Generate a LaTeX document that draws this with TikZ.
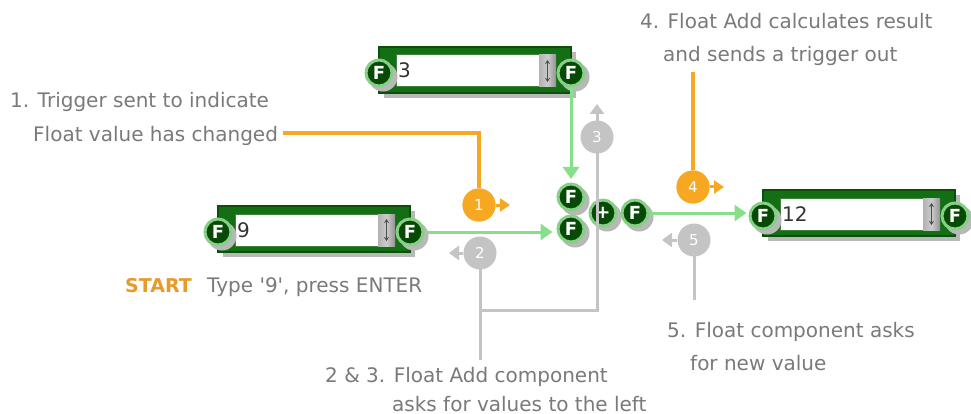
\documentclass[tikz,border=0pt]{standalone}
\usepackage{fontspec}
\setmainfont{DejaVu Sans}
\usetikzlibrary{arrows.meta}
\definecolor{txt}{HTML}{7A7A7A}
\definecolor{org}{HTML}{F7A823}
\definecolor{startc}{HTML}{E89A28}
\definecolor{gry}{HTML}{C4C4C4}
\definecolor{lgr}{HTML}{86E08A}
\definecolor{dgr}{HTML}{064A06}
\definecolor{boxg}{HTML}{146E14}
\definecolor{boxd}{HTML}{0A500A}
\definecolor{ring}{HTML}{86CF86}
\definecolor{shd}{HTML}{B8B8B8}
\definecolor{valc}{HTML}{333333}

\newcommand\fport[4]{%
  \fill[shd] (#2+4,#3+4) circle (14.5);
  \node[portc] (#1) at (#2,#3) {#4};}

\newcommand\widget[4]{%
  \fill[shd] (#2-91,#3-21) rectangle (#2+101,#3+25);
  \node[wbox] (#1) at (#2,#3-3) {};
  \node[wfield] (#1-f) at (#2-7.5,#3-2) {};
  \node[spin] (#1-s) at (#2+72.5,#3-2) {};
  \draw[spinarr] (#2+72.5,#3-13) -- (#2+72.5,#3+9);
  \node[valtxt] (#1-v) at (#2-77,#3+5) {#4};
  \fport{#1-l}{#2-96}{#3}{F}
  \fport{#1-r}{#2+96}{#3}{F}}

\begin{document}
\begin{tikzpicture}[x=1pt,y=-1pt,
  lbl/.style={text=txt,font=\fontsize{20}{22}\selectfont,anchor=base west,inner sep=0},
  portc/.style={circle,fill=dgr,draw=ring,line width=3pt,minimum size=26pt,inner sep=0,
    text=white,font=\bfseries\fontsize{18}{18}\selectfont},
  wbox/.style={rectangle,fill=boxg,draw=boxd,line width=1.5pt,minimum width=192pt,minimum height=46pt,inner sep=0},
  wfield/.style={rectangle,fill=white,draw=boxd!60!ring,line width=1pt,minimum width=143pt,minimum height=32pt,inner sep=0},
  spin/.style={rectangle,left color=gray!60,right color=gray!85,middle color=gray!40,minimum width=17pt,minimum height=32pt,inner sep=0},
  spinarr/.style={draw=black!70,line width=1.2pt,{Stealth[length=4pt,width=5pt]}-{Stealth[length=4pt,width=5pt]}},
  valtxt/.style={anchor=base west,inner sep=0,text=valc,font=\fontsize{20}{20}\selectfont},
  numc/.style={circle,minimum size=33pt,inner sep=0,text=white,font=\fontsize{15}{15}\selectfont},
  ocirc/.style={numc,fill=org},
  gcirc/.style={numc,fill=gry},
  gconn/.style={draw=lgr,line width=3pt,-{Triangle[width=16pt,length=12pt]}},
  oline/.style={draw=org,line width=3.5pt},
  oarr/.style={draw=org,line width=3pt,-{Triangle[width=13pt,length=10pt]}},
  gline/.style={draw=gry,line width=3pt},
  garr/.style={draw=gry,line width=3pt,-{Triangle[width=14pt,length=10pt]}}
]
\useasboundingbox (0,0) rectangle (971,414);
\fill[white] (0,0) rectangle (971,414);

% widgets
\widget{wtop}{475}{73}{3}
\widget{wnine}{314}{232}{9}
\widget{wtw}{859}{216}{12}

% float add
\fport{in1}{571}{197}{F}
\fport{in2}{571}{229}{F}
\fport{plus}{603}{213}{+}
\fport{out}{635}{213}{F}

% coordinates
\coordinate (in1tip) at (571,179);
\coordinate (o1start) at (283,133);
\coordinate (c1tip) at (510,205);
\coordinate (o4top) at (693,72);
\coordinate (c4tip) at (724,187);
\coordinate (c3tip) at (597,104);
\coordinate (c2tip) at (449,253);
\coordinate (j1) at (480,310);
\coordinate (g2bot) at (480,360);
\coordinate (c5tip) at (662,240);
\coordinate (g5bot) at (694,300);

% green connectors
\draw[gconn] (wtop-r.south) -- (in1tip);
\draw[gconn,shorten >=4pt] (wnine-r.east) -- (wnine-r.east -| in2.west);
\draw[gconn,shorten >=2pt] (out.east) -- (out.east -| wtw-l.west);

% orange
\node[ocirc] (c1) at (479,205) {1};
\node[ocirc] (c4) at (693,187) {4};
\draw[oline] (o1start) -| (c1);
\draw[oline] (o4top) -- (c4);
\draw[oarr] (c1.east) -- (c1tip);
\draw[oarr] (c4.east) -- (c4tip);
\node[ocirc] at (c1) {1};
\node[ocirc] at (c4) {4};

% gray
\draw[gline] (c2tip -| j1) -- (g2bot);
\draw[garr] (j1) -| (c3tip);
\draw[gline] (c5tip -| g5bot) -- (g5bot);
\node[gcirc] (c2) at (480,253) {2};
\node[gcirc] (c3) at (597,137) {3};
\node[gcirc] (c5) at (694,240) {5};
\draw[garr] (c2.west) -- (c2tip);
\draw[garr] (c5.west) -- (c5tip);

% labels
\node[lbl] (t1a) at (10,108) {1. Trigger sent to indicate};
\node[lbl] (t1b) at (33,142) {Float value has changed};
\node[lbl,text=startc,font=\bfseries\fontsize{19}{22}\selectfont] (tst) at (125,292) {START};
\node[lbl] (tst2) at (207,292) {Type \textquotesingle 9\textquotesingle, press ENTER};
\node[lbl] (t4a) at (640,29) {4. Float Add calculates result};
\node[lbl] (t4b) at (663,62) {and sends a trigger out};
\node[lbl] (t5a) at (667,337) {5. Float component asks};
\node[lbl] (t5b) at (690,370) {for new value};
\node[lbl] (t2a) at (325,382) {2 \& 3. Float Add component};
\node[lbl] (t2b) at (392,411) {asks for values to the left};
\end{tikzpicture}
\end{document}
